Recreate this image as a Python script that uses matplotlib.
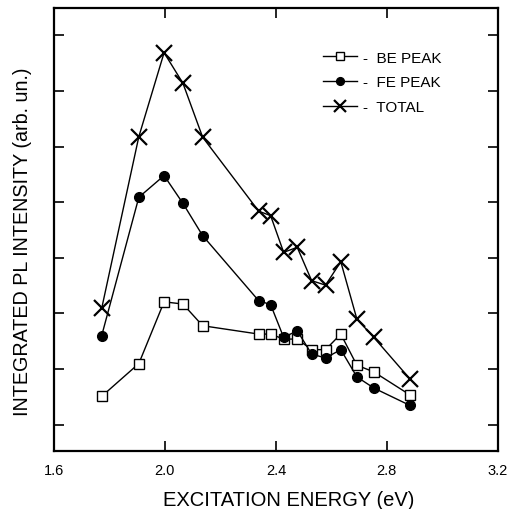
import matplotlib
matplotlib.use("Agg")
from matplotlib import pyplot as plt

plt.rcParams["font.family"] = ["Liberation Sans", "DejaVu Sans"]

# excitation energy (eV)
energy = [1.772, 1.906, 1.997, 2.065, 2.136, 2.338, 2.381, 2.428, 2.477,
          2.529, 2.579, 2.634, 2.692, 2.753, 2.882]

# integrated PL intensity (arb. un.)
be_peak = [1.51, 2.10, 3.21, 3.17, 2.78, 2.63, 2.63, 2.54, 2.54,
           2.35, 2.35, 2.63, 2.07, 1.95, 1.54]
fe_peak = [2.60, 5.09, 5.48, 4.98, 4.40, 3.23, 3.16, 2.57, 2.69,
           2.27, 2.20, 2.35, 1.86, 1.66, 1.35]
total = [3.09, 6.18, 7.69, 7.14, 6.17, 4.84, 4.76, 4.10, 4.19,
         3.59, 3.51, 3.93, 2.90, 2.57, 1.83]

x_ticks = [1.6, 2.0, 2.4, 2.8, 3.2]
x_labels = ["1.6", "2.0", "2.4", "2.8", "3.2"]
y_ticks = [1, 2, 3, 4, 5, 6, 7, 8]

fig = plt.figure(figsize=(5.09, 5.10), dpi=100)
ax = fig.add_axes([0.106, 0.114, 0.872, 0.868])

ax.plot(energy, be_peak, color="black", lw=1.0, marker="s", ms=6.5,
        mfc="white", mec="black", mew=1.0, label="-  BE PEAK")
ax.plot(energy, fe_peak, color="black", lw=1.0, marker="o", ms=7,
        mfc="black", mec="black", label="-  FE PEAK")
ax.plot(energy, total, color="black", lw=1.0, marker="x", ms=11,
        mew=1.6, label="-  TOTAL")

ax.set_xlim(1.6, 3.2)
ax.set_ylim(0.53, 8.49)
ax.set_xticks(x_ticks)
ax.set_xticklabels(x_labels)
ax.set_yticks(y_ticks)
ax.set_yticklabels([])
ax.tick_params(direction="in", length=7, width=1.2, top=True, right=True,
               labelsize=10.5, pad=9)

for s in ax.spines.values():
    s.set_linewidth(1.6)

ax.set_xlabel("EXCITATION ENERGY (eV)", fontsize=14.5, labelpad=9)
ax.set_ylabel("INTEGRATED PL INTENSITY (arb. un.)", fontsize=14.2,
              labelpad=7)
# labels in the original sit a little off the axis centre
ax.xaxis.label.set_x(0.529)
ax.yaxis.label.set_y(0.474)

ax.legend(loc="upper left", bbox_to_anchor=(0.575, 0.935), frameon=False,
          fontsize=11, handlelength=2.2, handletextpad=0.4, labelspacing=0.7,
          markerscale=0.8)

fig.savefig("out.png", dpi=100)
